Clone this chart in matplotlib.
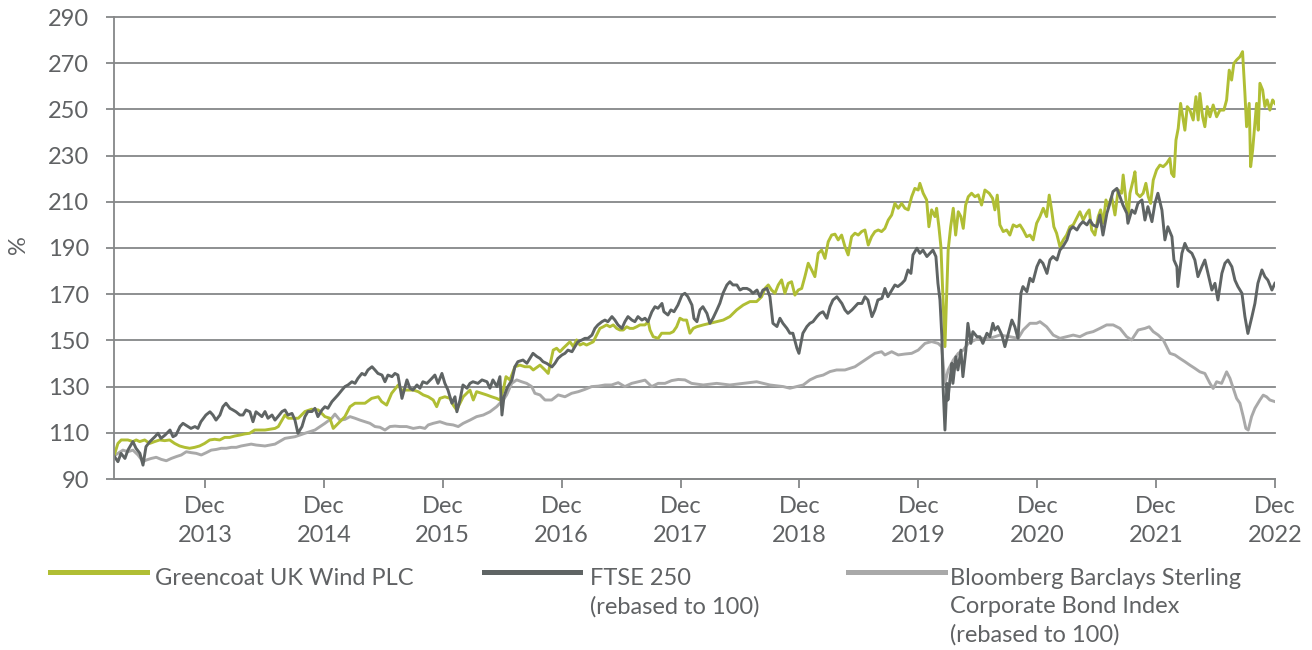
import matplotlib
matplotlib.use("Agg")
import matplotlib.pyplot as plt
import numpy as np
from matplotlib.lines import Line2D

# time is in decimal years (2014.0 = end of Dec 2013), values are % rebased to 100
greencoat = [
    (2013.235, 100.0), (2013.268, 105.4), (2013.296, 106.9), (2013.352, 106.9), (2013.394, 106.2),
    (2013.422, 106.9), (2013.451, 106.2), (2013.493, 106.9), (2013.535, 105.4), (2013.577, 106.2),
    (2013.619, 106.9), (2013.661, 106.6), (2013.703, 106.9), (2013.745, 105.4), (2013.787, 104.3),
    (2013.829, 103.7), (2013.871, 103.3), (2013.913, 103.7), (2013.955, 104.3), (2013.997, 105.4),
    (2014.040, 106.9), (2014.082, 107.2), (2014.124, 106.9), (2014.166, 108.0), (2014.208, 108.0),
    (2014.250, 108.6), (2014.292, 109.0), (2014.334, 109.5), (2014.376, 109.8), (2014.418, 111.2),
    (2014.505, 111.2), (2014.589, 111.9), (2014.617, 112.7), (2014.673, 117.7), (2014.701, 116.3),
    (2014.785, 116.3), (2014.841, 119.2), (2014.897, 120.2), (2014.953, 119.9), (2015.009, 117.0),
    (2015.051, 116.3), (2015.079, 111.9), (2015.121, 114.1), (2015.177, 117.0), (2015.220, 121.3),
    (2015.262, 122.8), (2015.346, 122.8), (2015.402, 124.9), (2015.458, 125.6), (2015.486, 123.5),
    (2015.528, 122.0), (2015.570, 127.1), (2015.626, 130.7), (2015.654, 128.5), (2015.696, 128.5),
    (2015.752, 128.5), (2015.794, 127.8), (2015.836, 126.4), (2015.878, 125.6), (2015.920, 124.2),
    (2015.949, 121.3), (2015.976, 124.9), (2016.018, 125.6), (2016.061, 124.9), (2016.088, 122.0),
    (2016.117, 119.9), (2016.145, 122.8), (2016.172, 125.6), (2016.201, 127.1), (2016.229, 128.5),
    (2016.257, 124.2), (2016.285, 127.8), (2016.327, 127.1), (2016.369, 126.4), (2016.411, 125.6),
    (2016.453, 124.9), (2016.481, 124.2), (2016.509, 128.5), (2016.532, 134.3), (2016.565, 132.9),
    (2016.607, 138.6), (2016.649, 139.3), (2016.691, 138.6), (2016.733, 138.6), (2016.761, 137.2),
    (2016.818, 139.3), (2016.860, 137.2), (2016.887, 135.7), (2016.929, 145.8), (2016.958, 146.6),
    (2016.986, 145.1), (2017.013, 146.6), (2017.042, 148.0), (2017.070, 149.4), (2017.098, 147.3),
    (2017.126, 150.2), (2017.154, 148.0), (2017.182, 148.7), (2017.210, 148.0), (2017.238, 148.7),
    (2017.266, 149.4), (2017.294, 152.3), (2017.322, 155.2), (2017.350, 155.9), (2017.378, 156.7),
    (2017.406, 155.9), (2017.434, 156.7), (2017.463, 155.2), (2017.490, 154.5), (2017.518, 154.5),
    (2017.547, 155.9), (2017.574, 155.2), (2017.602, 155.2), (2017.631, 155.9), (2017.659, 156.7),
    (2017.701, 156.7), (2017.728, 158.1), (2017.743, 154.5), (2017.770, 151.6), (2017.812, 150.9),
    (2017.841, 153.1), (2017.869, 153.1), (2017.911, 153.1), (2017.939, 153.8), (2017.967, 155.9),
    (2017.995, 159.6), (2018.023, 158.8), (2018.051, 158.8), (2018.079, 153.1), (2018.107, 155.2),
    (2018.135, 155.9), (2018.191, 156.7), (2018.247, 157.4), (2018.304, 158.1), (2018.359, 158.8),
    (2018.415, 160.3), (2018.472, 163.2), (2018.527, 165.3), (2018.584, 166.8), (2018.640, 166.8),
    (2018.682, 168.9), (2018.710, 172.5), (2018.738, 174.0), (2018.766, 171.8), (2018.794, 170.4),
    (2018.822, 174.0), (2018.850, 176.2), (2018.878, 170.4), (2018.906, 174.7), (2018.934, 175.4),
    (2018.962, 169.6), (2018.990, 171.8), (2019.019, 172.5), (2019.046, 177.6), (2019.074, 183.4),
    (2019.103, 180.5), (2019.130, 177.6), (2019.158, 187.7), (2019.187, 189.1), (2019.215, 185.5),
    (2019.242, 192.7), (2019.271, 195.6), (2019.299, 196.0), (2019.326, 193.5), (2019.355, 195.6),
    (2019.383, 190.6), (2019.410, 187.0), (2019.439, 194.9), (2019.467, 196.4), (2019.495, 195.6),
    (2019.523, 197.1), (2019.551, 197.8), (2019.579, 191.3), (2019.607, 194.9), (2019.635, 197.1),
    (2019.663, 197.8), (2019.691, 197.1), (2019.719, 198.5), (2019.747, 202.1), (2019.776, 204.3),
    (2019.803, 209.3), (2019.831, 207.2), (2019.860, 209.3), (2019.887, 207.2), (2019.915, 206.5),
    (2019.944, 212.2), (2019.971, 215.8), (2019.999, 215.1), (2020.013, 218.0), (2020.041, 213.7),
    (2020.070, 210.8), (2020.089, 199.2), (2020.112, 206.5), (2020.140, 203.6), (2020.154, 207.2),
    (2020.173, 199.2), (2020.190, 190.6), (2020.209, 166.0), (2020.224, 147.3), (2020.238, 168.9),
    (2020.251, 189.1), (2020.272, 199.2), (2020.294, 207.2), (2020.314, 195.6), (2020.336, 205.7),
    (2020.358, 203.6), (2020.378, 198.5), (2020.398, 208.6), (2020.420, 212.2), (2020.448, 213.7),
    (2020.476, 212.2), (2020.504, 213.0), (2020.532, 208.6), (2020.560, 215.1), (2020.596, 213.7),
    (2020.625, 211.5), (2020.644, 206.5), (2020.664, 212.9), (2020.686, 200.0), (2020.714, 197.1),
    (2020.743, 197.8), (2020.770, 195.6), (2020.798, 200.0), (2020.827, 199.2), (2020.855, 200.0),
    (2020.882, 197.8), (2020.911, 194.9), (2020.939, 195.6), (2020.966, 193.5), (2020.995, 200.7),
    (2021.023, 203.6), (2021.051, 207.2), (2021.079, 203.6), (2021.101, 212.9), (2021.121, 206.5),
    (2021.140, 199.2), (2021.163, 196.4), (2021.191, 190.6), (2021.219, 193.5), (2021.247, 195.6),
    (2021.275, 199.2), (2021.303, 200.0), (2021.331, 202.8), (2021.359, 205.7), (2021.387, 202.1),
    (2021.416, 205.0), (2021.437, 206.5), (2021.458, 197.8), (2021.485, 195.6), (2021.513, 203.6),
    (2021.533, 206.5), (2021.555, 200.7), (2021.578, 210.8), (2021.597, 207.9), (2021.626, 212.2),
    (2021.654, 204.3), (2021.681, 215.1), (2021.710, 213.7), (2021.723, 221.6), (2021.746, 210.8),
    (2021.765, 203.6), (2021.780, 213.7), (2021.807, 219.4), (2021.822, 223.0), (2021.836, 213.7),
    (2021.864, 212.2), (2021.891, 213.7), (2021.914, 218.0), (2021.934, 212.2), (2021.954, 209.3),
    (2021.976, 219.4), (2022.004, 223.8), (2022.032, 225.9), (2022.060, 225.2), (2022.088, 226.6),
    (2022.116, 228.8), (2022.130, 222.3), (2022.150, 220.9), (2022.167, 236.7), (2022.186, 241.8),
    (2022.206, 252.6), (2022.228, 245.4), (2022.242, 241.0), (2022.262, 251.2), (2022.284, 249.7),
    (2022.312, 245.4), (2022.335, 255.5), (2022.354, 245.4), (2022.368, 256.9), (2022.391, 246.8),
    (2022.410, 242.5), (2022.430, 251.2), (2022.453, 246.8), (2022.480, 251.9), (2022.509, 246.8),
    (2022.537, 249.7), (2022.570, 249.7), (2022.593, 254.1), (2022.615, 267.0), (2022.635, 262.7),
    (2022.654, 269.9), (2022.677, 271.4), (2022.705, 272.8), (2022.727, 275.0), (2022.747, 256.9),
    (2022.761, 242.5), (2022.783, 252.6), (2022.795, 225.2), (2022.812, 232.4), (2022.831, 243.9),
    (2022.845, 252.6), (2022.859, 241.0), (2022.873, 261.3), (2022.896, 258.4), (2022.915, 251.2),
    (2022.934, 254.1), (2022.957, 249.7), (2022.980, 254.1), (2022.999, 252.6),
]

ftse250 = [
    (2013.235, 100.0), (2013.268, 97.5), (2013.294, 101.1), (2013.327, 98.9), (2013.352, 102.5),
    (2013.394, 106.2), (2013.420, 103.3), (2013.453, 101.1), (2013.479, 96.0), (2013.504, 104.0),
    (2013.537, 106.2), (2013.579, 108.3), (2013.605, 109.8), (2013.630, 107.6), (2013.664, 109.0),
    (2013.706, 111.2), (2013.731, 108.3), (2013.756, 109.0), (2013.790, 112.7), (2013.815, 114.1),
    (2013.857, 112.7), (2013.882, 111.9), (2013.916, 112.7), (2013.941, 111.9), (2013.966, 114.8),
    (2014.008, 117.7), (2014.042, 119.1), (2014.067, 117.7), (2014.093, 115.5), (2014.126, 117.7),
    (2014.151, 121.3), (2014.177, 122.8), (2014.210, 120.6), (2014.235, 119.9), (2014.261, 119.1),
    (2014.294, 117.7), (2014.320, 117.7), (2014.345, 119.9), (2014.378, 119.1), (2014.404, 114.8),
    (2014.429, 119.1), (2014.463, 117.7), (2014.479, 117.0), (2014.505, 119.2), (2014.530, 116.3),
    (2014.564, 117.7), (2014.589, 115.5), (2014.614, 117.0), (2014.648, 119.2), (2014.673, 119.9),
    (2014.698, 117.7), (2014.732, 118.4), (2014.757, 115.5), (2014.782, 109.8), (2014.816, 112.7),
    (2014.841, 117.0), (2014.866, 119.2), (2014.900, 119.2), (2014.925, 120.6), (2014.950, 117.0),
    (2014.984, 119.9), (2015.009, 121.3), (2015.034, 120.6), (2015.068, 123.5), (2015.093, 124.9),
    (2015.119, 126.4), (2015.152, 128.5), (2015.177, 130.0), (2015.203, 130.7), (2015.236, 132.1),
    (2015.262, 131.4), (2015.287, 133.6), (2015.320, 135.7), (2015.346, 135.0), (2015.371, 137.2),
    (2015.405, 138.6), (2015.430, 137.2), (2015.455, 135.7), (2015.489, 135.0), (2015.514, 132.1),
    (2015.539, 135.0), (2015.573, 134.3), (2015.598, 135.7), (2015.623, 135.0), (2015.657, 124.9),
    (2015.699, 132.9), (2015.724, 129.3), (2015.749, 128.5), (2015.783, 130.7), (2015.808, 129.3),
    (2015.833, 132.1), (2015.867, 131.4), (2015.909, 133.6), (2015.934, 135.0), (2015.960, 131.4),
    (2015.993, 135.7), (2016.018, 131.4), (2016.044, 128.5), (2016.077, 122.8), (2016.103, 125.6),
    (2016.119, 119.1), (2016.145, 124.2), (2016.170, 130.7), (2016.204, 129.3), (2016.229, 131.4),
    (2016.254, 132.1), (2016.296, 131.4), (2016.330, 132.9), (2016.372, 132.1), (2016.397, 129.3),
    (2016.422, 132.9), (2016.456, 130.0), (2016.481, 134.3), (2016.498, 117.7), (2016.515, 125.6),
    (2016.540, 129.3), (2016.582, 132.9), (2016.607, 138.6), (2016.632, 140.8), (2016.675, 141.5),
    (2016.708, 140.1), (2016.733, 142.2), (2016.759, 144.4), (2016.792, 143.0), (2016.818, 142.2),
    (2016.843, 140.8), (2016.876, 140.0), (2016.918, 138.5), (2016.944, 140.1), (2016.969, 142.2),
    (2017.003, 143.7), (2017.028, 144.4), (2017.053, 145.8), (2017.087, 145.1), (2017.112, 147.3),
    (2017.137, 149.4), (2017.171, 150.2), (2017.196, 150.9), (2017.221, 150.9), (2017.255, 152.3),
    (2017.280, 155.2), (2017.305, 156.7), (2017.339, 158.1), (2017.364, 158.8), (2017.389, 158.1),
    (2017.423, 160.3), (2017.448, 158.8), (2017.474, 156.7), (2017.507, 155.2), (2017.532, 158.1),
    (2017.558, 160.3), (2017.591, 158.8), (2017.616, 158.1), (2017.642, 160.3), (2017.675, 158.8),
    (2017.701, 159.6), (2017.726, 158.1), (2017.759, 162.4), (2017.785, 164.6), (2017.810, 163.9),
    (2017.844, 166.0), (2017.860, 162.4), (2017.894, 161.0), (2017.919, 163.2), (2017.945, 162.4),
    (2017.978, 165.3), (2018.012, 169.6), (2018.037, 170.4), (2018.062, 168.9), (2018.096, 165.3),
    (2018.113, 159.5), (2018.138, 158.1), (2018.163, 163.2), (2018.188, 164.6), (2018.222, 161.7),
    (2018.247, 157.4), (2018.273, 159.6), (2018.306, 163.2), (2018.331, 166.1), (2018.357, 170.4),
    (2018.390, 174.0), (2018.415, 175.4), (2018.441, 174.0), (2018.474, 174.0), (2018.500, 171.8),
    (2018.525, 172.5), (2018.558, 172.5), (2018.584, 171.8), (2018.609, 170.4), (2018.643, 171.8),
    (2018.668, 168.9), (2018.693, 171.8), (2018.727, 172.5), (2018.752, 168.9), (2018.777, 157.4),
    (2018.811, 156.0), (2018.836, 159.6), (2018.861, 157.4), (2018.895, 155.2), (2018.920, 153.1),
    (2018.945, 153.1), (2018.979, 146.6), (2018.996, 144.4), (2019.029, 153.1), (2019.063, 156.0),
    (2019.088, 157.4), (2019.114, 158.1), (2019.147, 160.3), (2019.172, 161.7), (2019.198, 162.4),
    (2019.231, 159.6), (2019.257, 164.6), (2019.282, 167.5), (2019.315, 168.9), (2019.357, 166.0),
    (2019.383, 163.2), (2019.408, 161.7), (2019.442, 163.2), (2019.467, 164.6), (2019.492, 166.0),
    (2019.526, 166.0), (2019.551, 168.9), (2019.576, 167.5), (2019.610, 160.3), (2019.635, 163.2),
    (2019.660, 167.5), (2019.694, 168.2), (2019.719, 172.5), (2019.744, 168.9), (2019.778, 171.8),
    (2019.803, 174.0), (2019.828, 173.3), (2019.862, 174.7), (2019.887, 176.1), (2019.913, 180.5),
    (2019.938, 179.0), (2019.955, 187.0), (2019.988, 189.9), (2020.013, 187.7), (2020.039, 189.1),
    (2020.072, 186.3), (2020.098, 187.7), (2020.123, 189.1), (2020.148, 186.3), (2020.165, 174.7),
    (2020.182, 167.5), (2020.198, 151.6), (2020.207, 131.4), (2020.224, 111.2), (2020.241, 131.4),
    (2020.249, 124.2), (2020.266, 132.9), (2020.283, 140.1), (2020.291, 131.4), (2020.316, 142.9),
    (2020.333, 137.2), (2020.358, 145.8), (2020.375, 134.3), (2020.400, 145.8), (2020.417, 157.4),
    (2020.442, 148.7), (2020.459, 153.8), (2020.493, 151.6), (2020.518, 151.6), (2020.543, 148.7),
    (2020.577, 153.1), (2020.602, 151.6), (2020.627, 157.4), (2020.644, 154.5), (2020.669, 156.0),
    (2020.703, 152.3), (2020.728, 147.3), (2020.754, 152.3), (2020.787, 158.8), (2020.812, 155.9),
    (2020.838, 150.9), (2020.863, 170.4), (2020.880, 173.3), (2020.913, 171.1), (2020.939, 176.9),
    (2020.964, 175.4), (2020.997, 181.9), (2021.023, 184.8), (2021.048, 183.4), (2021.082, 179.0),
    (2021.107, 184.8), (2021.132, 186.3), (2021.166, 184.8), (2021.191, 189.1), (2021.216, 190.6),
    (2021.250, 193.5), (2021.275, 197.8), (2021.300, 199.2), (2021.334, 197.8), (2021.359, 200.0),
    (2021.384, 201.4), (2021.418, 200.0), (2021.443, 202.1), (2021.468, 200.0), (2021.502, 199.2),
    (2021.527, 204.3), (2021.553, 195.6), (2021.586, 205.0), (2021.611, 209.3), (2021.637, 214.4),
    (2021.670, 215.8), (2021.696, 212.2), (2021.721, 208.6), (2021.754, 205.0), (2021.763, 200.7),
    (2021.796, 206.4), (2021.822, 205.0), (2021.847, 209.3), (2021.881, 210.8), (2021.906, 202.1),
    (2021.931, 207.9), (2021.965, 201.4), (2021.990, 209.3), (2022.015, 213.7), (2022.049, 206.4),
    (2022.074, 193.5), (2022.099, 199.2), (2022.133, 194.9), (2022.150, 184.8), (2022.175, 181.9),
    (2022.183, 173.3), (2022.217, 187.7), (2022.242, 192.0), (2022.267, 189.1), (2022.301, 187.7),
    (2022.326, 184.8), (2022.352, 177.6), (2022.385, 181.9), (2022.410, 184.8), (2022.436, 179.0),
    (2022.469, 171.8), (2022.495, 174.7), (2022.520, 167.5), (2022.553, 179.0), (2022.579, 183.4),
    (2022.604, 184.8), (2022.637, 181.9), (2022.663, 176.1), (2022.688, 173.3), (2022.722, 170.4),
    (2022.747, 160.3), (2022.772, 153.0), (2022.806, 160.3), (2022.831, 166.0), (2022.856, 174.7),
    (2022.890, 180.5), (2022.915, 177.6), (2022.940, 176.1), (2022.974, 171.8), (2022.999, 174.7),
]

bond_index = [
    (2013.235, 100.0), (2013.268, 101.1), (2013.310, 102.5), (2013.352, 101.8), (2013.394, 102.5),
    (2013.437, 100.4), (2013.479, 97.5), (2013.506, 98.2), (2013.548, 98.9), (2013.590, 99.4),
    (2013.632, 98.5), (2013.675, 97.9), (2013.717, 98.9), (2013.759, 99.7), (2013.801, 100.4),
    (2013.843, 101.8), (2013.885, 101.4), (2013.927, 101.1), (2013.969, 100.4), (2014.011, 101.4),
    (2014.053, 102.5), (2014.095, 102.8), (2014.137, 103.3), (2014.179, 103.3), (2014.221, 103.7),
    (2014.263, 103.7), (2014.305, 104.3), (2014.347, 104.7), (2014.389, 105.1), (2014.431, 104.7),
    (2014.505, 104.3), (2014.589, 105.1), (2014.673, 107.6), (2014.757, 108.3), (2014.841, 109.8),
    (2014.925, 111.2), (2015.009, 114.1), (2015.066, 116.3), (2015.093, 118.1), (2015.135, 115.5),
    (2015.177, 115.8), (2015.220, 117.0), (2015.262, 116.3), (2015.304, 115.5), (2015.346, 114.8),
    (2015.388, 114.1), (2015.430, 112.7), (2015.472, 112.4), (2015.514, 111.2), (2015.556, 112.7),
    (2015.598, 112.9), (2015.640, 112.7), (2015.696, 112.7), (2015.752, 111.9), (2015.808, 112.4),
    (2015.850, 111.9), (2015.878, 113.4), (2015.920, 114.1), (2015.976, 114.8), (2016.033, 113.8),
    (2016.088, 113.4), (2016.130, 112.7), (2016.172, 114.1), (2016.229, 115.5), (2016.285, 117.0),
    (2016.341, 117.7), (2016.397, 119.1), (2016.453, 121.3), (2016.481, 122.8), (2016.509, 124.2),
    (2016.537, 126.4), (2016.580, 131.4), (2016.622, 132.9), (2016.664, 132.1), (2016.706, 131.4),
    (2016.748, 130.0), (2016.775, 127.1), (2016.818, 126.4), (2016.860, 124.2), (2016.916, 124.2),
    (2016.971, 126.4), (2017.028, 125.6), (2017.084, 127.1), (2017.140, 127.8), (2017.196, 128.8),
    (2017.252, 130.0), (2017.308, 130.2), (2017.364, 130.7), (2017.420, 130.7), (2017.476, 131.7),
    (2017.532, 130.0), (2017.589, 131.4), (2017.644, 132.1), (2017.701, 132.8), (2017.757, 130.0),
    (2017.812, 131.4), (2017.869, 131.4), (2017.925, 132.6), (2017.981, 133.1), (2018.037, 132.9),
    (2018.093, 131.4), (2018.191, 130.7), (2018.304, 131.4), (2018.415, 130.7), (2018.527, 131.4),
    (2018.640, 132.1), (2018.752, 130.7), (2018.864, 130.0), (2018.920, 129.3), (2018.977, 130.0),
    (2019.032, 130.7), (2019.088, 132.9), (2019.145, 134.3), (2019.200, 135.0), (2019.257, 136.5),
    (2019.313, 137.2), (2019.383, 137.2), (2019.467, 138.6), (2019.551, 141.5), (2019.635, 144.4),
    (2019.691, 145.1), (2019.719, 143.7), (2019.776, 145.1), (2019.831, 143.7), (2019.887, 144.1),
    (2019.944, 144.4), (2019.999, 145.8), (2020.056, 148.7), (2020.112, 149.5), (2020.167, 148.7),
    (2020.196, 147.3), (2020.224, 131.4), (2020.251, 137.2), (2020.294, 141.5), (2020.336, 144.4),
    (2020.378, 145.8), (2020.420, 148.7), (2020.476, 150.2), (2020.532, 150.9), (2020.602, 150.9),
    (2020.686, 152.3), (2020.770, 151.6), (2020.840, 150.9), (2020.882, 154.5), (2020.939, 157.4),
    (2020.995, 157.4), (2021.023, 158.1), (2021.079, 155.9), (2021.135, 152.3), (2021.191, 150.9),
    (2021.247, 151.6), (2021.303, 152.3), (2021.359, 151.6), (2021.416, 153.1), (2021.471, 153.8),
    (2021.527, 155.2), (2021.584, 156.7), (2021.639, 156.7), (2021.696, 155.2), (2021.752, 151.6),
    (2021.794, 150.2), (2021.849, 154.5), (2021.906, 155.2), (2021.942, 155.9), (2021.976, 153.8),
    (2022.018, 152.3), (2022.060, 150.2), (2022.088, 147.3), (2022.116, 144.4), (2022.158, 143.7),
    (2022.200, 142.2), (2022.242, 140.8), (2022.284, 139.3), (2022.326, 137.9), (2022.368, 136.4),
    (2022.410, 135.7), (2022.453, 131.4), (2022.480, 129.2), (2022.509, 132.1), (2022.551, 131.4),
    (2022.593, 136.4), (2022.621, 133.6), (2022.649, 129.2), (2022.677, 124.9), (2022.705, 122.8),
    (2022.733, 117.0), (2022.755, 111.9), (2022.775, 111.2), (2022.803, 117.0), (2022.831, 120.6),
    (2022.873, 124.2), (2022.901, 126.3), (2022.929, 125.6), (2022.957, 124.2), (2022.999, 123.5),
]

series_labels = [
    "Greencoat UK Wind PLC",
    "FTSE 250\n(rebased to 100)",
    "Bloomberg Barclays Sterling\nCorporate Bond Index\n(rebased to 100)",
]
tick_years = list(range(2013, 2023))
y_ticks = list(range(90, 291, 20))

GREEN = "#b0be34"
DARK = "#5f6464"
LIGHT = "#a9a9a9"
GRID = "#858788"
TEXT = "#606264"
FS = 17

plt.rcParams["font.family"] = ["Lato", "DejaVu Sans"]

W, H = 1312, 650
fig = plt.figure(figsize=(W / 100, H / 100), dpi=100)
ax = fig.add_axes([114 / W, 1 - 479 / H, (1275 - 114) / W, (479 - 17) / H])

for data, colour in ((bond_index, LIGHT), (greencoat, GREEN), (ftse250, DARK)):
    t, v = np.array(data).T
    ax.plot(t, v, color=colour, lw=2.1, solid_joinstyle="round")

ax.set_xlim(2013.235, 2023.0)
ax.set_ylim(90, 290)
ax.set_yticks(y_ticks)
ax.set_xticks([y + 1 for y in tick_years])
ax.set_xticklabels([f"Dec\n{y}" for y in tick_years], linespacing=1.45)

ax.grid(axis="y", color=GRID, lw=1.3)
ax.set_axisbelow(True)
for gl in ax.get_ygridlines():
    gl.set_clip_on(False)
for side in ("top", "right"):
    ax.spines[side].set_visible(False)
for side in ("left", "bottom"):
    ax.spines[side].set_color(GRID)
    ax.spines[side].set_linewidth(1.3)

ax.tick_params(axis="y", length=6, width=1.3, color=GRID, labelsize=FS,
               labelcolor=TEXT, pad=12)
ax.tick_params(axis="x", length=6.5, width=1.3, color=GRID, labelsize=FS,
               labelcolor=TEXT, pad=6)
fig.text(18 / W, 1 - 245 / H, "%", fontsize=FS, color=TEXT, rotation=90,
         ha="center", va="center")

# legend drawn by hand, under the axis
legend_x = [(50, 147, 155), (484, 580, 590), (848, 945, 950)]
for (x0, x1, xt), colour, label in zip(legend_x, (GREEN, DARK, LIGHT), series_labels):
    fig.add_artist(Line2D([x0 / W, x1 / W], [1 - 572 / H] * 2,
                          transform=fig.transFigure, color=colour, lw=3.6))
    fig.text(xt / W, 1 - 568 / H, label, fontsize=FS, color=TEXT,
             va="top", ha="left", linespacing=1.4)

fig.savefig("out.png", dpi=100)
